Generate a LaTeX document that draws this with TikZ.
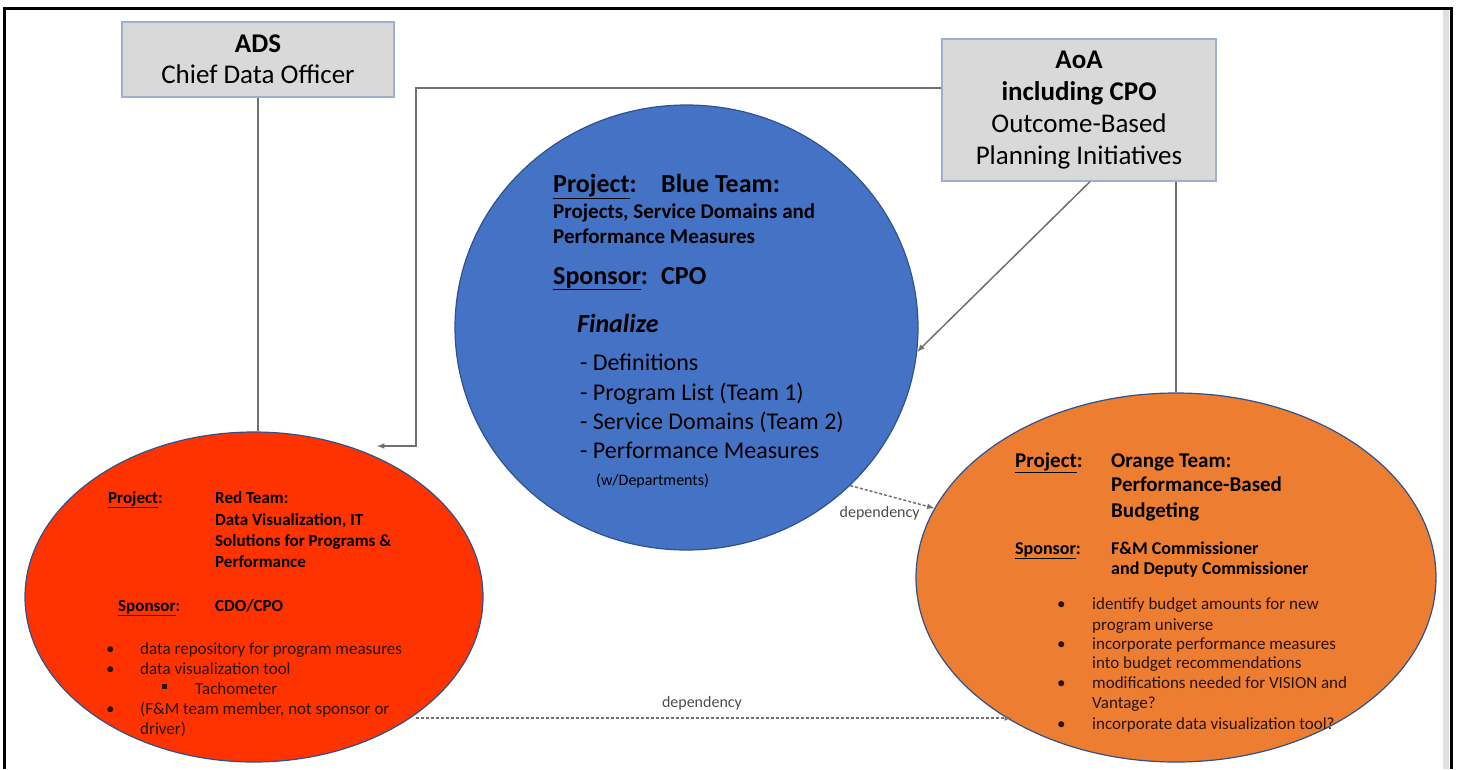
\documentclass[tikz,border=0pt]{standalone}
\usepackage{fontspec}
\setmainfont{Carlito}
\usetikzlibrary{shapes.geometric}
\tikzset{>=latex}
\definecolor{boxgray}{HTML}{D9D9D9}
\definecolor{boxline}{HTML}{9DB0CF}
\definecolor{rimblue}{HTML}{2F528F}
\definecolor{bluefill}{HTML}{4472C4}
\definecolor{redfill}{HTML}{FF3300}
\definecolor{orangefill}{HTML}{ED7D31}
\definecolor{linegray}{HTML}{707070}
\definecolor{textdark}{HTML}{2A140A}
\tikzset{boxnode/.style={draw=boxline, fill=boxgray, line width=1.2pt, align=center, inner sep=0pt}}
\tikzset{team/.style={ellipse, draw=rimblue, line width=1.2pt, inner sep=0pt}}
\tikzset{conn/.style={draw=linegray, line width=1.5pt}}
\tikzset{depline/.style={conn, dash pattern=on 3pt off 2pt, ->}}
\tikzset{txt/.style={anchor=base west, inner sep=0pt}}

\begin{document}
\begin{tikzpicture}[x=1pt,y=-1pt]
      \useasboundingbox (0,0) rectangle (1458,769);
      \fill[black!12] (1443,10) rectangle (1449,769);
      \draw[line width=3.5pt] (4.5,769) -- (4.5,8.5) -- (1451.5,8.5) -- (1451.5,769);
      % boxes
      \node[boxnode, minimum width=272pt, minimum height=75pt, font=\fontsize{27}{31}\selectfont] (ADS) at (258,59.5) {\textbf{ADS}\\Chief Data Officer};
      \node[boxnode, minimum width=274pt, minimum height=142pt, font=\fontsize{27}{32}\selectfont] (AoA) at (1079,110) {\textbf{AoA}\\\textbf{including CPO}\\Outcome-Based\\Planning Initiatives};
      % teams
      \node[team, fill=bluefill, minimum width=463pt, minimum height=445pt] (blue) at (686.5,327.5) {};
      \node[team, fill=redfill, minimum width=458pt, minimum height=330pt] (red) at (254,597) {};
      \node[team, fill=orangefill, minimum width=520pt, minimum height=369pt] (orange) at (1176,577.5) {};
      % connectors
      \coordinate (redin) at (377,446);
      \coordinate (depend) at (1012,718);
      \draw[conn] (ADS.south) -- (ADS.south |- red.north);
      \draw[conn,->] ([yshift=22pt]AoA.west) -| (416,446) -- (redin);
      \draw[conn,->] ([xshift=11pt]AoA.south) -- (blue.-6);
      \draw[conn] (orange.north |- AoA.south) -- (orange.north);
      \draw[depline] (blue.-44) -- (orange.164) node[pos=0.35, below=9pt, text=black!70, font=\fontsize{16}{18}\selectfont] (dep1) {dependency};
      \draw[depline] (red.-36 |- depend) -- (depend) node[pos=0.48, above=4pt, text=black!70, font=\fontsize{16}{18}\selectfont] (dep2) {dependency};
      % blue team
      \node[txt, font=\bfseries\fontsize{26}{30}\selectfont] (bproj) at (553,192) {\underline{Project}:};
      \node[txt, font=\bfseries\fontsize{26}{30}\selectfont] (bname) at (661,192) {Blue Team:};
      \node[txt, font=\bfseries\fontsize{21}{25}\selectfont] (bdesc1) at (553,218) {Projects, Service Domains and};
      \node[txt, font=\bfseries\fontsize{21}{25}\selectfont] (bdesc2) at (553,243) {Performance Measures};
      \node[txt, font=\bfseries\fontsize{26}{30}\selectfont] (bspon) at (553,284) {\underline{Sponsor}:};
      \node[txt, font=\bfseries\fontsize{26}{30}\selectfont] (bcpo) at (661,284) {CPO};
      \node[txt, font=\bfseries\itshape\fontsize{26}{30}\selectfont] (bfin) at (577,332) {Finalize};
      \node[txt, font=\fontsize{24}{29}\selectfont] (bitem1) at (580,370) {- Definitions};
      \node[txt, font=\fontsize{24}{29}\selectfont] (bitem2) at (580,400) {- Program List (Team 1)};
      \node[txt, font=\fontsize{24}{29}\selectfont] (bitem3) at (580,429) {- Service Domains (Team 2)};
      \node[txt, font=\fontsize{24}{29}\selectfont] (bitem4) at (580,458) {- Performance Measures};
      \node[txt, font=\fontsize{16}{19}\selectfont] (bdept) at (596,485) {(w/Departments)};
      % red team
      \node[txt, font=\bfseries\fontsize{17}{21}\selectfont] (rproj) at (108,503) {\underline{Project}:};
      \node[txt, font=\bfseries\fontsize{17}{21}\selectfont] (rname) at (215,503) {Red Team:};
      \node[txt, font=\bfseries\fontsize{17}{21}\selectfont] (rdesc1) at (215,525) {Data Visualization, IT};
      \node[txt, font=\bfseries\fontsize{17}{21}\selectfont] (rdesc2) at (215,546) {Solutions for Programs \&};
      \node[txt, font=\bfseries\fontsize{17}{21}\selectfont] (rdesc3) at (215,567) {Performance};
      \node[txt, font=\bfseries\fontsize{17}{21}\selectfont] (rspon) at (118,611) {\underline{Sponsor}:};
      \node[txt, font=\bfseries\fontsize{17}{21}\selectfont] (rcdo) at (215,611) {CDO/CPO};
      \node[txt, text=textdark, font=\fontsize{17}{20}\selectfont] (rdot1) at (106,654) {\textbullet};
      \node[txt, text=textdark, font=\fontsize{17}{20}\selectfont] (ritem1) at (140,654) {data repository for program measures};
      \node[txt, text=textdark, font=\fontsize{17}{20}\selectfont] (rdot2) at (106,674) {\textbullet};
      \node[txt, text=textdark, font=\fontsize{17}{20}\selectfont] (ritem2) at (140,674) {data visualization tool};
      \node[txt, text=textdark] (rsq) at (162,689) {\rule{5pt}{5pt}};
      \node[txt, text=textdark, font=\fontsize{17}{20}\selectfont] (ritem3) at (195,694) {Tachometer};
      \node[txt, text=textdark, font=\fontsize{17}{20}\selectfont] (rdot3) at (106,714) {\textbullet};
      \node[txt, text=textdark, font=\fontsize{17}{20}\selectfont] (ritem4) at (140,714) {(F\&M team member, not sponsor or};
      \node[txt, text=textdark, font=\fontsize{17}{20}\selectfont] (ritem5) at (140,734) {driver)};
      % orange team
      \node[txt, font=\bfseries\fontsize{21}{25}\selectfont] (oproj) at (1015,467) {\underline{Project}:};
      \node[txt, font=\bfseries\fontsize{21}{25}\selectfont] (oname) at (1111,467) {Orange Team:};
      \node[txt, font=\bfseries\fontsize{21}{25}\selectfont] (odesc1) at (1111,491) {Performance-Based};
      \node[txt, font=\bfseries\fontsize{21}{25}\selectfont] (odesc2) at (1111,517) {Budgeting};
      \node[txt, font=\bfseries\fontsize{18}{21}\selectfont] (ospon) at (1015,554) {\underline{Sponsor}:};
      \node[txt, font=\bfseries\fontsize{18}{21}\selectfont] (ofm1) at (1111,554) {F\&M Commissioner};
      \node[txt, font=\bfseries\fontsize{18}{21}\selectfont] (ofm2) at (1111,574) {and Deputy Commissioner};
      \node[txt, text=textdark, font=\fontsize{17}{20}\selectfont] (odot1) at (1057,609) {\textbullet};
      \node[txt, text=textdark, font=\fontsize{17}{20}\selectfont] (oitem1) at (1092,609) {identify budget amounts for new};
      \node[txt, text=textdark, font=\fontsize{17}{20}\selectfont] (oitem2) at (1092,630) {program universe};
      \node[txt, text=textdark, font=\fontsize{17}{20}\selectfont] (odot2) at (1057,649) {\textbullet};
      \node[txt, text=textdark, font=\fontsize{17}{20}\selectfont] (oitem3) at (1092,649) {incorporate performance measures};
      \node[txt, text=textdark, font=\fontsize{17}{20}\selectfont] (oitem4) at (1092,668) {into budget recommendations};
      \node[txt, text=textdark, font=\fontsize{17}{20}\selectfont] (odot3) at (1057,688) {\textbullet};
      \node[txt, text=textdark, font=\fontsize{17}{20}\selectfont] (oitem5) at (1092,688) {modifications needed for VISION and};
      \node[txt, text=textdark, font=\fontsize{17}{20}\selectfont] (oitem6) at (1092,708) {Vantage?};
      \node[txt, text=textdark, font=\fontsize{17}{20}\selectfont] (odot4) at (1057,729) {\textbullet};
      \node[txt, text=textdark, font=\fontsize{17}{20}\selectfont] (oitem7) at (1092,729) {incorporate data visualization tool?};
    \end{tikzpicture}
\end{document}
